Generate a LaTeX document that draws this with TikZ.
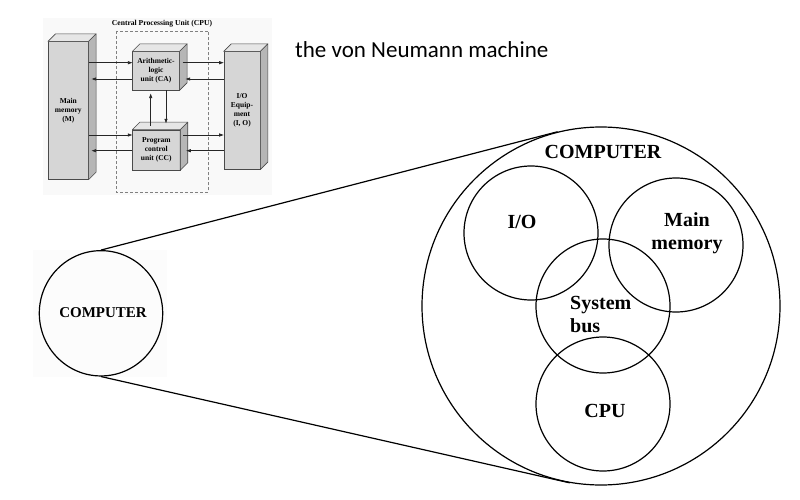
\documentclass[tikz,border=0pt]{standalone}
\usepackage{fontspec}
\setmainfont{Liberation Serif}
\newfontfamily\calibri{Carlito}
\usetikzlibrary{arrows.meta,calc,shapes.geometric}
\definecolor{frontc}{HTML}{D6D6D6}
\definecolor{topc}{HTML}{E6E6E6}
\definecolor{sidec}{HTML}{B6B6B6}
\definecolor{edgec}{HTML}{4A4A4A}
\tikzset{
  cube/.style={draw=edgec, line width=0.6pt, fill=frontc, inner sep=0pt, align=center,
    font=\bfseries\fontsize{7.5}{9}\selectfont},
  topface/.style={draw=edgec, line width=0.6pt, fill=topc, line join=round},
  sideface/.style={draw=edgec, line width=0.6pt, fill=sidec, line join=round},
  flow/.style={draw=black!85, line width=0.75pt, -{Triangle[length=4.5pt,width=3pt]}},
  ring/.style={circle, draw, line width=1.2pt, inner sep=0pt},
  bigtext/.style={font=\bfseries\fontsize{20}{23}\selectfont, inner sep=0pt},
  zoomline/.style={draw, line width=1.2pt}
}
\newcommand{\depthfaces}[1]{%
  \path[topface] (#1.north west) -- ++(7.5,-7.5) -- ($(#1.north east)+(7.5,-7.5)$) -- (#1.north east) -- cycle;
  \path[sideface] (#1.north east) -- ++(7.5,-7.5) -- ($(#1.south east)+(7.5,-7.5)$) -- (#1.south east) -- cycle;
}
\begin{document}
\begin{tikzpicture}[x=1pt,y=-1pt]
\useasboundingbox[fill=white] (0,0) rectangle (800,500);

% ---------- top-left von Neumann figure ----------
\fill[gray!5] (43,18) rectangle (272,195);
\node[font=\bfseries\fontsize{7.6}{9}\selectfont, inner sep=0pt] (cputitle) at (162,24) {Central Processing Unit (CPU)};
\draw[gray, dashed, dash pattern=on 3pt off 2pt, line width=0.6pt] (116,31) rectangle (208.3,192);

\node[cube, minimum width=40, minimum height=137.6] (mm) at (68.3,110.5) {Main\\memory\\(M)};
\depthfaces{mm}
\node[cube, minimum width=46.6, minimum height=38.3] (alu) at (156,70.8) {Arithmetic-\\logic\\unit (CA)};
\depthfaces{alu}
\node[cube, minimum width=47.3, minimum height=40] (pcu) at (156.3,150) {Program\\control\\unit (CC)};
\depthfaces{pcu}
\node[cube, minimum width=36, minimum height=117.6] (io) at (242,110.5) {I/O\\Equip-\\ment\\(I, O)};
\depthfaces{io}

% horizontal arrows
\draw[flow] (mm.east |- 0,62.7) -- (alu.west |- 0,62.7);
\draw[flow] (alu.west |- 0,79) -- ($(mm.east |- 0,79)+(3,0)$);
\draw[flow] (mm.east |- 0,135) -- (pcu.west |- 0,135);
\draw[flow] (pcu.west |- 0,150.7) -- ($(mm.east |- 0,150.7)+(3,0)$);
\draw[flow] ($(alu.east |- 0,62.7)+(3,0)$) -- (io.west |- 0,62.7);
\draw[flow] (io.west |- 0,79) -- ($(alu.east |- 0,79)+(6,0)$);
\draw[flow] ($(pcu.east |- 0,135)+(3,0)$) -- (io.west |- 0,135);
\draw[flow] (io.west |- 0,150.7) -- ($(pcu.east |- 0,150.7)+(6,0)$);
% vertical arrows
\draw[flow] (150.7,126) -- ($(150.7,0 |- alu.south)+(0,3.3)$);
\draw[flow] (166,0 |- alu.south) -- (166,123.3);

% ---------- caption ----------
\node[anchor=west, font=\calibri\fontsize{23}{27}\selectfont, inner sep=0pt] (cap) at (295,50) {the von Neumann machine};

% ---------- zoom diagram ----------
\fill[gray!2] (33,250) rectangle (167,377);
\node[ellipse, draw, line width=1.2pt, minimum width=123.4, minimum height=125.3, inner sep=0pt] (small) at (101,313.3) {};
\node[font=\bfseries\fontsize{15}{18}\selectfont, inner sep=0pt] (smalltxt) at (103,313) {COMPUTER};

\node[ring, minimum size=358] (big) at (601,306) {};
\node[ring, minimum size=134] (iocirc) at (531,233) {};
\node[ring, minimum size=134] (memcirc) at (676,245) {};
\node[ring, minimum size=134] (buscirc) at (603,306) {};
\node[ring, minimum size=134] (cpucirc) at (603,404) {};

\node[bigtext] (bigtxt) at (603,152) {COMPUTER};
\node[bigtext] (iotxt) at (522,222) {I/O};
\node[bigtext, align=center] (memtxt) at (687,233.5) {Main\\memory};
\node[bigtext, align=left, anchor=west] (bustxt) at (570,314) {System\\bus};
\node[bigtext] (cputxt) at (605,411) {CPU};

\draw[zoomline] (small.north) -- (big.104);
\draw[zoomline] (small.south) -- (big.260);
\end{tikzpicture}
\end{document}
